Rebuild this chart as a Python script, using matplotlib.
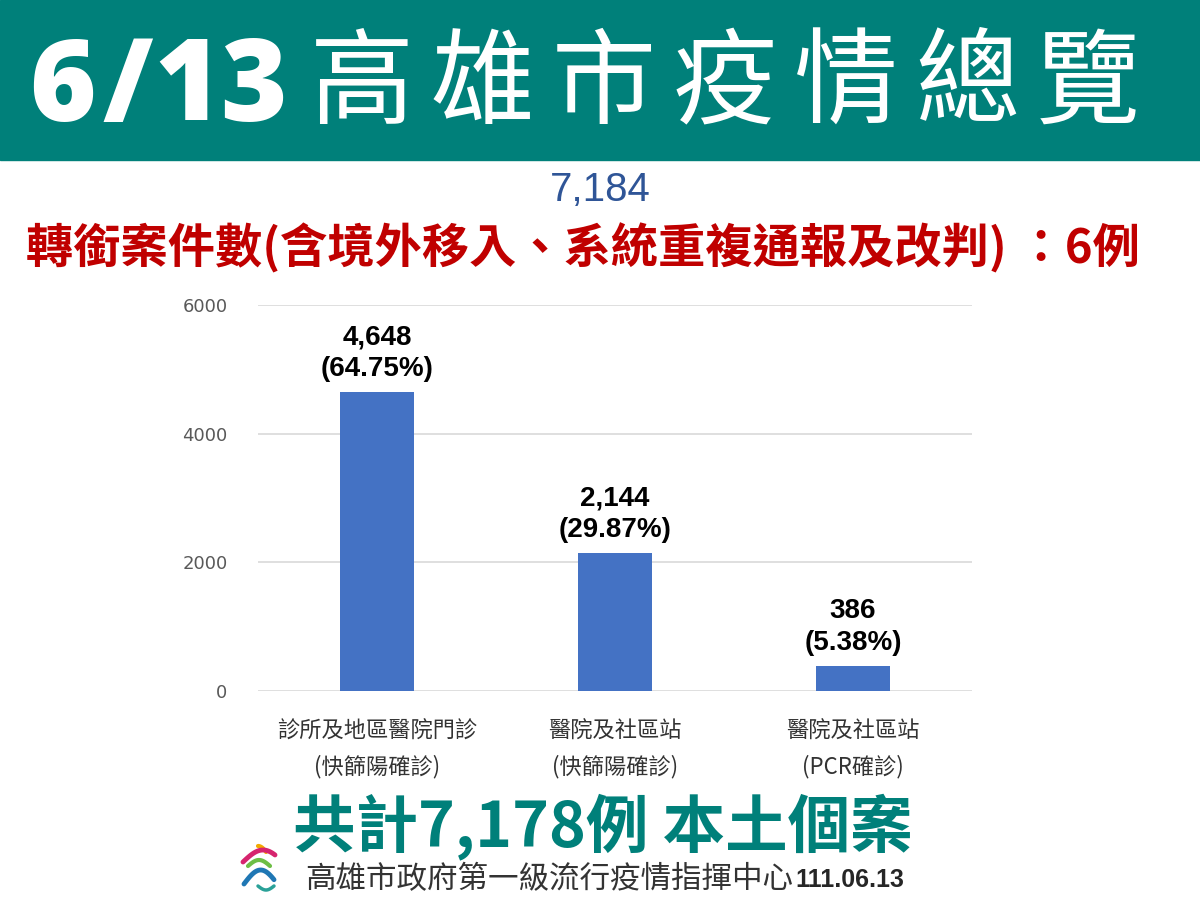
import numpy as np
import matplotlib.pyplot as plt
from matplotlib.patches import Rectangle
from matplotlib.lines import Line2D

# data
categories = ["診所及地區醫院門診\n(快篩陽確診)", "醫院及社區站\n(快篩陽確診)", "醫院及社區站\n(PCR確診)"]
counts = [4648, 2144, 386]
percents = ["64.75%", "29.87%", "5.38%"]
yticks = [0, 2000, 4000, 6000]

title_date = "6/13"
title_text = "高雄市疫情總覽"
total_reported = "7,184"
transfer_note = "轉銜案件數(含境外移入、系統重複通報及改判) ：6例"
total_local = "共計7,178例 本土個案"
footer_org = "高雄市政府第一級流行疫情指揮中心"
footer_date = "111.06.13"

cjk = ['Noto Sans CJK TC', 'DejaVu Sans']
latin = ['Liberation Sans', 'DejaVu Sans']
teal = "#00807A"

W, H = 1200, 900
fig = plt.figure(figsize=(12, 9), dpi=100)
fig.patch.set_facecolor("white")


def fy(py):
    # pixel row from top -> figure fraction
    return 1 - py / H


# banner
fig.patches.append(Rectangle((0, fy(160)), 1, 160 / H, transform=fig.transFigure,
                             color=teal, zorder=0))
# date drawn glyph by glyph to get the wide spacing
for ch, cx in zip(title_date, [62, 128, 188, 253]):
    fig.text(cx / W, fy(91), ch, color="white", fontsize=82, fontweight="heavy",
             family=['Open Sans', 'DejaVu Sans'], va="center", ha="center")
# title characters are widely spaced
for i, ch in enumerate(title_text):
    fig.text((362 + i * 121) / W, fy(86), ch, color="white", fontsize=75, fontweight=300,
             family=cjk, va="center", ha="center")

fig.text(0.5, fy(190), total_reported, color="#2F5597", fontsize=29,
         family=latin, va="center", ha="center")
fig.text(0.486, fy(248), transfer_note, color="#C00000", fontsize=34, fontweight="bold",
         family=cjk, va="center", ha="center")

# chart
ax = fig.add_axes([258 / W, fy(691), 714 / W, 386 / H])
x = range(len(counts))
bars = ax.bar(x, counts, width=0.31, color="#4472C4", zorder=3)
ax.set_xlim(-0.5, 2.5)
ax.set_ylim(0, 6000)
ax.set_yticks(yticks)
ax.grid(axis="y", color="#D9D9D9", linewidth=1.2, zorder=0)
for s in ax.spines.values():
    s.set_visible(False)
ax.tick_params(axis="y", length=0, labelsize=13, labelcolor="#595959", pad=22)
ax.tick_params(axis="x", length=0, pad=21)
ax.set_xticks(list(x))
ax.set_xticklabels(categories, family=cjk, fontsize=16, color="#333333", linespacing=1.6)

for b, c, p in zip(bars, counts, percents):
    ax.annotate(f"{c:,}\n({p})", (b.get_x() + b.get_width() / 2, c), xytext=(0, 7),
                textcoords="offset points", ha="center", va="bottom", fontsize=20,
                fontweight="bold", family=latin, linespacing=1.3)

fig.text(0.502, fy(827), total_local, color=teal, fontsize=45,
         fontweight="bold", family=cjk, va="center", ha="center")
fig.text(0.254, fy(880), footer_org, color="#333333", fontsize=22,
         family=cjk, va="center", ha="left")
fig.text(795 / W, fy(880), footer_date, color="#262626", fontsize=18, fontweight="bold",
         family=latin, va="center", ha="left")

# small city logo (rough strokes)
t = np.linspace(0, 1, 30)
strokes = [
    ("#F2A900", 258 + 8 * t, 846 + 6 * t ** 2, 3),
    ("#D6246E", 243 + 32 * t, 862 - 12 * np.sin(np.pi * t * 0.8), 3.5),
    ("#6DBE45", 248 + 22 * t, 866 - 6 * np.sin(np.pi * t), 3),
    ("#1F77B4", 244 + 30 * t, 884 - 14 * np.sin(np.pi * t * 0.9), 3.5),
    ("#2AA198", 258 + 16 * t, 886 + 4 * np.sin(np.pi * t), 2.5),
]
for color, px, py, lw in strokes:
    fig.lines.append(Line2D(px / W, fy(py), transform=fig.transFigure, color=color,
                            linewidth=lw, solid_capstyle="round"))

fig.savefig("out.png", dpi=100)
